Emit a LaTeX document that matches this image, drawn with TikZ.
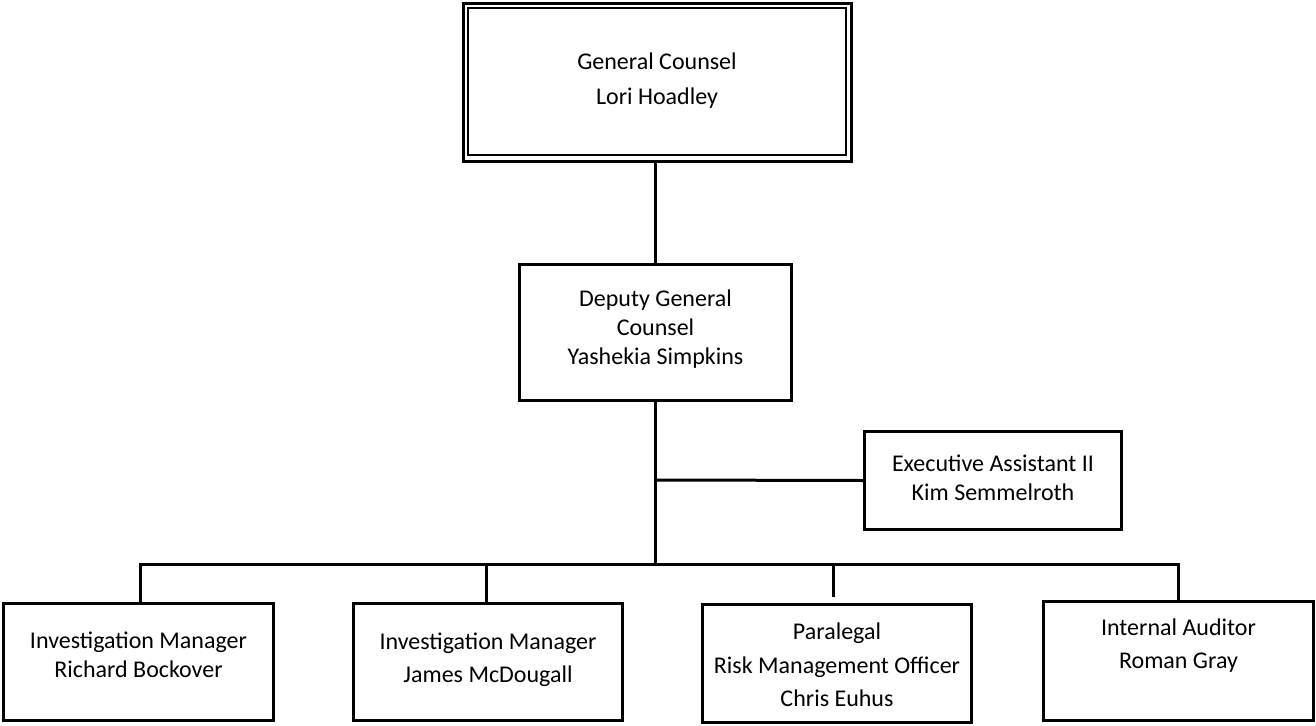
\documentclass[tikz,border=0pt]{standalone}
\usepackage{fontspec}
\setmainfont{Carlito}
\begin{document}
\begin{tikzpicture}[x=0.75pt,y=-0.75pt,
  box/.style={draw=black, line width=2.25pt, inner sep=0pt, outer sep=0pt, fill=white},
  txt/.style={align=center, inner sep=0pt, font=\fontsize{18}{21.75}\selectfont},
  conn/.style={draw=black, line width=2.25pt}]
\useasboundingbox (0,0) rectangle (1316,725);
\fill[white] (0,0) rectangle (1316,725);
% boxes
\node[box, minimum width=388*0.75pt, minimum height=158*0.75pt] (gc) at (657,82) {};
\draw[line width=1.5pt] ([xshift=5*0.75pt,yshift=-5*0.75pt]gc.north west) rectangle ([xshift=-5*0.75pt,yshift=6*0.75pt]gc.south east);
\node[box, minimum width=272*0.75pt, minimum height=136*0.75pt] (dgc) at (655.5,332.5) {};
\node[box, minimum width=257*0.75pt, minimum height=98*0.75pt] (ea) at (993,480.5) {};
\node[box, minimum width=270*0.75pt, minimum height=117*0.75pt] (b1) at (138.5,662) {};
\node[box, minimum width=269*0.75pt, minimum height=117*0.75pt] (b2) at (488,662) {};
\node[box, minimum width=269*0.75pt, minimum height=118*0.75pt] (b3) at (837,663.5) {};
\node[box, minimum width=270*0.75pt, minimum height=119*0.75pt] (b4) at (1178.5,661) {};
% texts
\node[txt] (tgc) at (657,81) {General Counsel\\[4.5pt]Lori Hoadley};
\node[txt] (tdgc) at (655.5,329) {Deputy General\\Counsel\\Yashekia Simpkins};
\node[txt] (tea) at (993,478) {Executive Assistant II\\Kim Semmelroth};
\node[txt] (t1) at (138.5,655) {Investigation Manager\\Richard Bockover};
\node[txt] (t2) at (488,660) {Investigation Manager\\[3pt]James McDougall};
\node[txt] (t3) at (837,665) {Paralegal\\[4pt]Risk Management Officer\\[3pt]Chris Euhus};
\node[txt] (t4) at (1178.5,646) {Internal Auditor\\[3pt]Roman Gray};
% connectors
\coordinate (bar) at (655,564);
\coordinate (eaj) at (655,480);
\coordinate (d1) at (140,564);
\coordinate (d2) at (486,564);
\coordinate (d3) at (833,564);
\coordinate (d3e) at (833,597);
\coordinate (d4) at (1178,564);
\draw[conn] (gc.south -| bar) -- (dgc.north -| bar);
\draw[conn] (dgc.south -| bar) -- (bar);
\draw[conn] (eaj) -- (ea.west);
\draw[conn, line cap=rect] (d1) -- (d4);
\draw[conn] (d1) -- (d1 |- b1.north);
\draw[conn] (d2) -- (d2 |- b2.north);
\draw[conn] (d3) -- (d3e);
\draw[conn] (d4) -- (d4 |- b4.north);
\end{tikzpicture}
\end{document}
